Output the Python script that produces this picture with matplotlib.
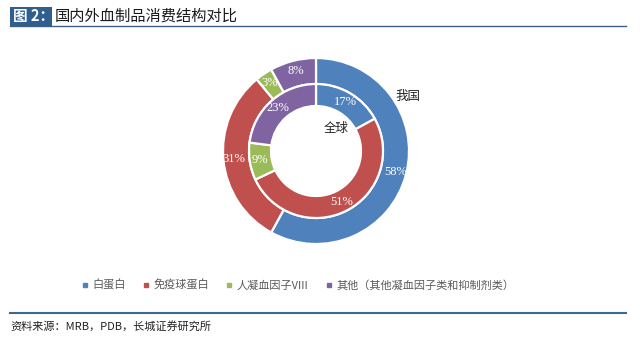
import matplotlib
matplotlib.use("Agg")
import matplotlib.pyplot as plt
from matplotlib.lines import Line2D
from matplotlib.patches import Rectangle

plt.rcParams['font.family'] = ['Noto Sans CJK SC', 'DejaVu Sans']

categories = ['白蛋白', '免疫球蛋白', '人凝血因子VIII', '其他（其他凝血因子类和抑制剂类）']
china = [58, 31, 3, 8]
world = [17, 51, 9, 23]
colors = ['#4F81BD', '#C0504D', '#9BBB59', '#8064A2']
title_tag = '图 2：'
title = '国内外血制品消费结构对比'
source = '资料来源：MRB，PDB，长城证券研究所'

W, H = 640, 342
fig = plt.figure(figsize=(W / 100, H / 100), dpi=100)
fig.patch.set_facecolor('white')

def fx(px):
    return px / W

def fy(py):
    return 1 - py / H

# donut axes: center at (316,151), 100px half-size
cx, cy, hs = 316, 151, 100
ax = fig.add_axes([fx(cx - hs), fy(cy + hs), 2 * hs / W, 2 * hs / H])
wp = dict(edgecolor='white', linewidth=1.6)
tp = dict(color='white', fontsize=9, family=['Liberation Serif', 'DejaVu Serif'])
ax.pie(china, radius=0.93, colors=colors, startangle=90, counterclock=False,
       wedgeprops=dict(width=0.26, **wp), autopct='%d%%', pctdistance=0.89,
       textprops=tp)
ax.pie(world, radius=0.67, colors=colors, startangle=90, counterclock=False,
       wedgeprops=dict(width=0.22, **wp), autopct='%d%%', pctdistance=0.85,
       textprops=tp)
ax.set_xlim(-1, 1)
ax.set_ylim(-1, 1)
ax.set_aspect('equal')
ax.axis('off')

fig.text(fx(408), fy(96), '我国', fontsize=9, color='#222222', ha='center', va='center')
fig.text(fx(336), fy(128), '全球', fontsize=9, color='#222222', ha='center', va='center')

# legend
handles = [Line2D([], [], marker='s', linestyle='none', markersize=3,
                  markerfacecolor=c, markeredgecolor=c) for c in colors]
fig.legend(handles, categories, loc='center', bbox_to_anchor=(fx(298), fy(285)),
           ncol=4, frameon=False, fontsize=8, labelcolor='#595959',
           handlelength=0.5, handletextpad=0.4, columnspacing=1.6)

# title bar
fig.patches.append(Rectangle((fx(10), fy(26)), fx(42), 19 / H, transform=fig.transFigure,
                             facecolor='#2F5F8F', edgecolor='none'))
fig.text(fx(13), fy(16.5), title_tag, fontsize=10.5, color='white', fontweight='bold',
         ha='left', va='center')
fig.text(fx(55), fy(16.5), title, fontsize=11, color='#1a1a1a', ha='left', va='center')
fig.add_artist(Line2D([fx(10), fx(626)], [fy(26), fy(26)], transform=fig.transFigure,
                      color='#3B5F85', linewidth=1.0))

# source
fig.add_artist(Line2D([fx(10), fx(626)], [fy(312.5), fy(312.5)], transform=fig.transFigure,
                      color='#3F6790', linewidth=1.5))
fig.text(fx(10), fy(326), source, fontsize=8, color='#222222', style='italic',
         ha='left', va='center')

fig.savefig('out.png', dpi=100, facecolor='white')
